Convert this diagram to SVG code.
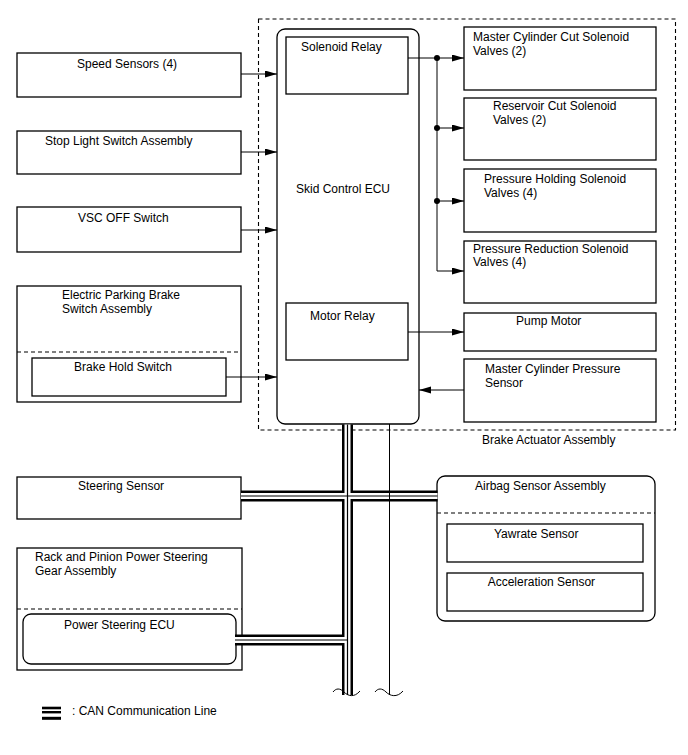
<svg xmlns="http://www.w3.org/2000/svg" width="688" height="755" viewBox="0 0 688 755">
<style>
text{font-family:"Liberation Sans",Arial,sans-serif;font-size:12px;fill:#000}
.box{fill:#fff;stroke:#000;stroke-width:1.3}
.dash{fill:none;stroke:#000;stroke-width:1.1;stroke-dasharray:4,3}
.ln{fill:none;stroke:#000;stroke-width:1}
.canB{fill:none;stroke:#000;stroke-width:11}
.canW{fill:none;stroke:#fff;stroke-width:6}
.canC{fill:none;stroke:#000;stroke-width:1.2}
</style>
<defs>
<marker id="ah" markerUnits="userSpaceOnUse" markerWidth="13" markerHeight="8" refX="12" refY="3.5" orient="auto">
<path d="M0,0 L12,3.5 L0,7 z" fill="#000"/>
</marker>
</defs>
<rect width="688" height="755" fill="#fff"/>

<g id="brake-actuator-assembly">
<rect x="258.5" y="19" width="417" height="411" class="dash"/>
<text x="482" y="444">Brake Actuator Assembly</text>
</g>

<g id="skid-control-ecu">
<rect x="277" y="29" width="142" height="395" rx="8" class="box"/>
<text x="296" y="193">Skid Control ECU</text>
</g>
<g id="solenoid-relay">
<rect x="286" y="37" width="122" height="57" class="box"/>
<text x="301" y="51">Solenoid Relay</text>
</g>
<g id="motor-relay">
<rect x="286" y="303" width="122" height="57" class="box"/>
<text x="310" y="320">Motor Relay</text>
</g>

<g id="speed-sensors">
<rect x="17" y="53" width="224" height="44" class="box"/>
<text x="77" y="67.5">Speed Sensors (4)</text>
</g>
<g id="stop-light-switch">
<rect x="17" y="131" width="224" height="43" class="box"/>
<text x="45" y="145.3">Stop Light Switch Assembly</text>
</g>
<g id="vsc-off-switch">
<rect x="17" y="207" width="224" height="45" class="box"/>
<text x="78" y="222">VSC OFF Switch</text>
</g>
<g id="electric-parking-brake-switch">
<rect x="17" y="286" width="224" height="116" class="box"/>
<line x1="17" y1="352" x2="241" y2="352" class="dash"/>
<text x="62" y="299.3">Electric Parking Brake</text>
<text x="62" y="313">Switch Assembly</text>
</g>
<g id="brake-hold-switch">
<rect x="32" y="358" width="194" height="38" class="box"/>
<text x="74" y="370.7">Brake Hold Switch</text>
</g>

<g id="master-cylinder-cut">
<rect x="464" y="27" width="192" height="63" class="box"/>
<text x="473" y="41">Master Cylinder Cut Solenoid</text>
<text x="473" y="54.7">Valves (2)</text>
</g>
<g id="reservoir-cut">
<rect x="464" y="98" width="192" height="62" class="box"/>
<text x="493" y="109.7">Reservoir Cut Solenoid</text>
<text x="493" y="123.7">Valves (2)</text>
</g>
<g id="pressure-holding">
<rect x="464" y="169" width="192" height="63" class="box"/>
<text x="484" y="183">Pressure Holding Solenoid</text>
<text x="484" y="197">Valves (4)</text>
</g>
<g id="pressure-reduction">
<rect x="464" y="241" width="192" height="62" class="box"/>
<text x="473" y="253">Pressure Reduction Solenoid</text>
<text x="473" y="266.3">Valves (4)</text>
</g>
<g id="pump-motor">
<rect x="464" y="313" width="192" height="38" class="box"/>
<text x="516" y="324.7">Pump Motor</text>
</g>
<g id="master-cylinder-pressure-sensor">
<rect x="464" y="359" width="192" height="63" class="box"/>
<text x="485" y="373">Master Cylinder Pressure</text>
<text x="485" y="387">Sensor</text>
</g>

<g id="steering-sensor">
<rect x="17" y="477" width="224" height="42" class="box"/>
<text x="78" y="489.7">Steering Sensor</text>
</g>
<g id="rack-and-pinion">
<rect x="17" y="548" width="225" height="122" class="box"/>
<line x1="17" y1="609" x2="242" y2="609" class="dash"/>
<text x="35" y="561">Rack and Pinion Power Steering</text>
<text x="35" y="574.7">Gear Assembly</text>
</g>
<g id="power-steering-ecu">
<rect x="23" y="614" width="213" height="50" rx="8" class="box"/>
<text x="64" y="629.3">Power Steering ECU</text>
</g>
<g id="airbag-sensor-assembly">
<rect x="437" y="476" width="218" height="145" rx="8" class="box"/>
<line x1="437" y1="513" x2="655" y2="513" class="dash"/>
<text x="475" y="490.3">Airbag Sensor Assembly</text>
</g>
<g id="yawrate-sensor">
<rect x="447" y="524" width="196" height="38" class="box"/>
<text x="494" y="538">Yawrate Sensor</text>
</g>
<g id="acceleration-sensor">
<rect x="447" y="573" width="196" height="38" class="box"/>
<text x="487.7" y="586">Acceleration Sensor</text>
</g>

<g id="connectors">
<line x1="241" y1="74" x2="277" y2="74" class="ln" marker-end="url(#ah)"/>
<line x1="241" y1="152" x2="277" y2="152" class="ln" marker-end="url(#ah)"/>
<line x1="241" y1="230" x2="277" y2="230" class="ln" marker-end="url(#ah)"/>
<line x1="226" y1="377" x2="277" y2="377" class="ln" marker-end="url(#ah)"/>
<path d="M408,58 H464" class="ln" marker-end="url(#ah)"/>
<path d="M437,58 V271 H464" class="ln" marker-end="url(#ah)"/>
<line x1="437" y1="128" x2="464" y2="128" class="ln" marker-end="url(#ah)"/>
<line x1="437" y1="201" x2="464" y2="201" class="ln" marker-end="url(#ah)"/>
<circle cx="437" cy="58" r="3"/>
<circle cx="437" cy="128" r="3"/>
<circle cx="437" cy="201" r="3"/>
<line x1="408" y1="332" x2="464" y2="332" class="ln" marker-end="url(#ah)"/>
<line x1="464" y1="390" x2="419" y2="390" class="ln" marker-end="url(#ah)"/>

<g id="can-bus">
<path d="M347.5,424.5 V695 M241,496 H437.5 M235,640 H347.5" class="canB"/>
<path d="M347.5,424.5 V695 M241,496 H437.5 M235,640 H347.5" class="canW"/>
<path d="M347.5,424.5 V695 M241,496 H437.5 M235,640 H347.5" class="canC"/>
</g>
<line x1="389.5" y1="424" x2="389.5" y2="695" class="ln"/>
<path d="M333,692 C336,688 340,688 344,692 S354,698 360,691" class="ln"/>
<path d="M375,692 C378,688 382,688 386,692 S397,698 403,691" class="ln"/>
</g>

<g id="legend">
<rect x="42" y="706.7" width="19" height="2.6"/>
<rect x="42" y="711" width="19" height="2.4"/>
<rect x="42" y="716.8" width="19" height="3"/>
<text x="72" y="714.7">: CAN Communication Line</text>
</g>
</svg>
